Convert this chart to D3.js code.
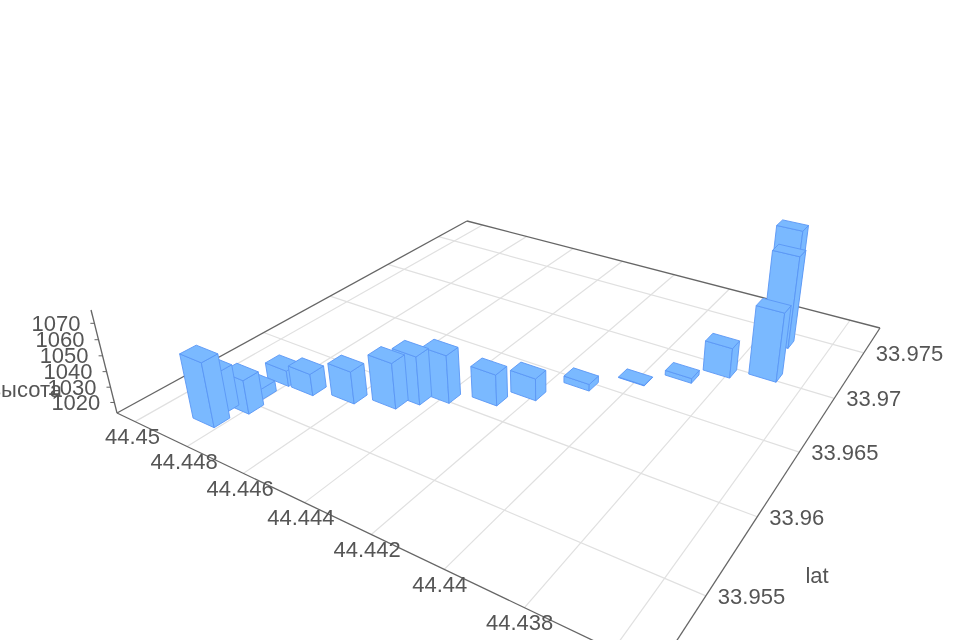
<!DOCTYPE html>
<html><head><meta charset="utf-8"><script src="https://cdn.jsdelivr.net/npm/d3@7"></script>
<style>html,body{margin:0;background:#fff}svg{display:block;filter:blur(0.45px)}</style></head><body>
<svg id="c" width="960" height="640"></svg>
<script>
const lonExtent=[44.45073,44.43508], latExtent=[33.9511,33.9781], zExtent=[1013,1078];
const lonTicks=[44.45,44.448,44.446,44.444,44.442,44.44,44.438,44.436];
const latTicks=[33.955,33.96,33.965,33.97,33.975];
const zTicks=[1020,1030,1040,1050,1060,1070];
const lons=[44.44847,44.44874,44.44819,44.44841,44.44830,44.44741,44.44620,44.44511,44.44470,44.44409,44.44295,44.44221,44.44124,44.44009,44.43905,44.43826,44.43709,44.43744,44.43788];
const lats=[33.95314,33.95410,33.95472,33.95588,33.95738,33.95741,33.95793,33.95864,33.95950,33.96034,33.96136,33.96270,33.96477,33.96659,33.96803,33.96947,33.97033,33.97379,33.97644];
const heights=[1054.2,1039.5,1034.9,1019.8,1023.4,1027.3,1034.2,1042.9,1044.6,1044.4,1033.5,1027.6,1017.5,1013.4,1016.2,1033.2,1059.3,1076.3,1079];
const halfLon=0.0004, halfLat=0.00045;
const Q=[[117,413],[657,671],[880,328],[467,221]],V=[555,2150],K=-0.05598;
const[x0,y0]=Q[0],[x1,y1]=Q[1],[x2,y2]=Q[2],[x3,y3]=Q[3];
const dx1=x1-x2,dx2=x3-x2,sx=x0-x1+x2-x3,dy1=y1-y2,dy2=y3-y2,sy=y0-y1+y2-y3,den=dx1*dy2-dx2*dy1;
const g=(sx*dy2-dx2*sy)/den,h=(dx1*sy-sx*dy1)/den;
const a=x1-x0+g*x1,b=x3-x0+h*x3,c=x0,d=y1-y0+g*y1,e=y3-y0+h*y3,f=y0;
const U=d3.scaleLinear().domain(lonExtent).range([0,1]),Vs=d3.scaleLinear().domain(latExtent).range([0,1]),Z=d3.scaleLinear().domain(zExtent).range([0,1]);
function P(lon,lat,z){const u=U(lon),v=Vs(lat),t=Z(z)*K;const X=a*u+b*v+c+t*V[0],Y=d*u+e*v+f+t*V[1],W=g*u+h*v+1+t;return[X/W,Y/W];}
const svg=d3.select("#c");
const line=(p,q,col,w)=>svg.append("path").attr("d",d3.line()([p,q])).attr("stroke",col).attr("stroke-width",w).attr("fill","none");
lonTicks.forEach(l=>line(P(l,latExtent[0],zExtent[0]),P(l,latExtent[1],zExtent[0]),"#e0e0e0",1.2));
latTicks.forEach(l=>line(P(lonExtent[0],l,zExtent[0]),P(lonExtent[1],l,zExtent[0]),"#e0e0e0",1.2));
const cs=[[0,0],[0,1],[1,1],[1,0]].map(([i,j])=>P(lonExtent[i],latExtent[j],zExtent[0]));
cs.forEach((p,i)=>line(p,cs[(i+1)%4],"#666",1.3));
line(P(lonExtent[0],latExtent[0],zExtent[0]),P(lonExtent[0],latExtent[0],zExtent[1]),"#666",1.3);
const lab=(t,x,y,anc)=>svg.append("text").text(t).attr("x",x).attr("y",y).attr("text-anchor",anc||"middle").attr("font-family","Liberation Sans").attr("font-size",22).attr("fill","#555");
lonTicks.slice(0,7).forEach((l,i)=>{const p=P(l,latExtent[0],zExtent[0]);lab(l,p[0]-2.5-i*.4,p[1]+22.5)});
latTicks.forEach(l=>{const p=P(lonExtent[1],l,zExtent[0]);lab(l,p[0]+12,p[1]+8,"start")});
zTicks.forEach(l=>{const p=P(lonExtent[0],latExtent[0],l);line(p,[p[0]-4,p[1]],"#666",1);lab(l,p[0]-14,p[1]+7.5,"end")});
lab("lat",817,583);
lab("высота",62,397,"end");
const bars=lons.map((lon,i)=>({lon,lat:lats[i],z:heights[i]}));
const depth=b=>g*U(b.lon)+h*Vs(b.lat);
bars.sort((p,q)=>depth(q)-depth(p));
const gBars=svg.append("g").attr("fill","#7ab9ff").attr("stroke","#5a96f5").attr("stroke-width",0.9).attr("stroke-linejoin","round");
const poly=(pts)=>gBars.append("path").attr("d",d3.line()(pts)+"Z");
bars.forEach(b=>{
 const lo=b.lon-halfLon,hi=b.lon+halfLon,s=b.lat-halfLat,n=b.lat+halfLat,z0=zExtent[0],z1=b.z;
 poly([P(hi,s,z0),P(lo,s,z0),P(lo,s,z1),P(hi,s,z1)]);
 poly([P(lo,s,z0),P(lo,n,z0),P(lo,n,z1),P(lo,s,z1)]);
 poly([P(hi,s,z1),P(lo,s,z1),P(lo,n,z1),P(hi,n,z1)]);
});
</script></body></html>
